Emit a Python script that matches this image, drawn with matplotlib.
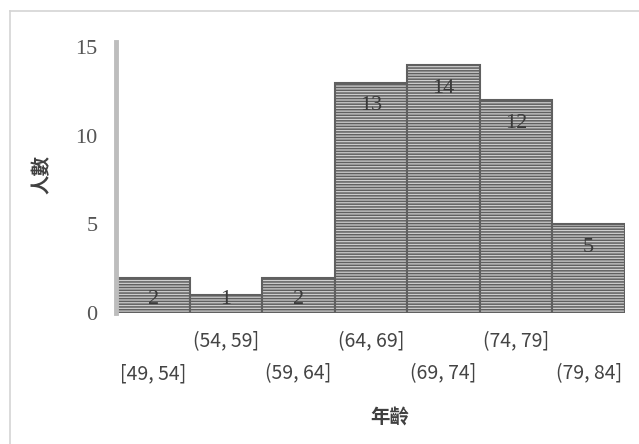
import matplotlib
matplotlib.use("Agg")
import matplotlib.pyplot as plt
from matplotlib.lines import Line2D
import numpy as np

# age groups and head counts
groups = ['[49, 54]', '(54, 59]', '(59, 64]', '(64, 69]', '(69, 74]', '(74, 79]', '(79, 84]']
counts = [2, 1, 2, 13, 14, 12, 5]
yticks = [0, 5, 10, 15]

plt.rcParams['hatch.color'] = '#6e6e6e'
plt.rcParams['hatch.linewidth'] = 1.1

fig = plt.figure(figsize=(6.39, 4.44), dpi=100)
ax = fig.add_axes([117 / 639, 1 - 313 / 444, 508 / 639, 271 / 444])

# spines first: moving a spine resets the axis ticks
for s in ['top', 'right', 'bottom']:
    ax.spines[s].set_visible(False)
ax.spines['left'].set_color('#bdbdbd')
ax.spines['left'].set_linewidth(3.5)
ax.spines['left'].set_position(('outward', 1))

x = np.arange(len(groups))
ax.bar(x, counts, width=1.0, color='#cfcfcf', edgecolor='#606060',
       linewidth=1.5, hatch='------')
ax.set_xlim(-0.5, len(groups) - 0.5)
ax.set_ylim(0, 15.3)

# counts written just inside the top of each bar
for xi, v in zip(x, counts):
    ax.text(xi, max(v - 1.3, 0.75), str(v), ha='center', va='center',
            family='Liberation Serif', fontsize=16, color='#3a3a3a')

ax.set_yticks(yticks)
ax.set_yticklabels([str(t) for t in yticks])
ax.tick_params(axis='y', length=0, pad=13, labelsize=16, labelcolor='#555555')
for lab in ax.get_yticklabels():
    lab.set_family('Liberation Serif')

# staggered category labels: even ones on the lower row
ax.set_xticks(x[::2])
ax.set_xticklabels(groups[::2])
ax.set_xticks(x[1::2], minor=True)
ax.set_xticklabels(groups[1::2], minor=True)
ax.tick_params(axis='x', which='major', length=0, pad=36, labelsize=14,
               labelcolor='#444444')
ax.tick_params(axis='x', which='minor', length=0, pad=13, labelsize=14,
               labelcolor='#444444')
for lab in ax.get_xticklabels(which='both'):
    lab.set_family('Noto Sans CJK TC')

fig.text(390 / 639, 1 - 418 / 444, '年齡', ha='center', va='center',
         family='Noto Sans CJK TC', fontweight='bold', fontsize=14,
         color='#404040')
fig.text(42 / 639, 1 - 174 / 444, '人數', ha='center', va='center',
         rotation=90, family='Noto Sans CJK TC', fontweight='bold',
         fontsize=14, color='#404040')

# light frame on the top and left edges
fig.add_artist(Line2D([10 / 639, 1], [1 - 11 / 444, 1 - 11 / 444],
                      transform=fig.transFigure, color='#d4d4d4', lw=1.2))
fig.add_artist(Line2D([10 / 639, 10 / 639], [0, 1 - 11 / 444],
                      transform=fig.transFigure, color='#d4d4d4', lw=1.2))

fig.savefig('out.png', dpi=100)
